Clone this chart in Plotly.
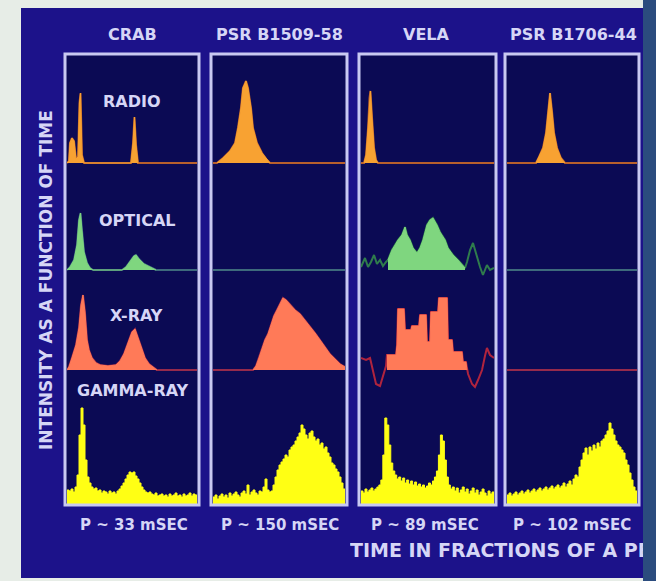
import plotly.graph_objects as go

# ---------------- text ----------------
PULSARS = ["CRAB", "PSR B1509-58", "VELA", "PSR B1706-44"]
PERIODS = ["P ~ 33 mSEC", "P ~ 150 mSEC", "P ~ 89 mSEC", "P ~ 102 mSEC"]
BANDS = ["RADIO", "OPTICAL", "X-RAY", "GAMMA-RAY"]
X_TITLE = "TIME IN FRACTIONS OF A PERIOD"
Y_TITLE = "INTENSITY AS A FUNCTION OF TIME"

# ---------------- pulse profiles (phase 0..1, intensity in arbitrary units) ----------------
# Crab
crab_radio_phase = [0.0, 0.015, 0.023, 0.038, 0.054, 0.069, 0.085, 0.096, 0.104, 0.115, 0.131,
                    0.492, 0.508, 0.519, 0.531, 0.546, 1.0]
crab_radio = [0, 2, 20, 25, 22, 4, 6, 60, 70, 8, 0, 0, 20, 46, 18, 0, 0]

crab_optical_phase = [0.0, 0.023, 0.054, 0.077, 0.092, 0.104, 0.115, 0.131, 0.154, 0.177, 0.2,
                      0.423, 0.454, 0.485, 0.515, 0.531, 0.554, 0.592, 0.638, 0.685, 1.0]
crab_optical = [0, 3, 10, 25, 50, 57, 40, 18, 7, 2, 0, 0, 3, 8, 14, 15, 11, 6, 3, 0, 0]

crab_xray_phase = [0.0, 0.015, 0.038, 0.069, 0.092, 0.108, 0.123, 0.138, 0.154, 0.169, 0.192,
                   0.223, 0.254, 0.315, 0.377, 0.408, 0.438, 0.469, 0.5, 0.523, 0.546, 0.569,
                   0.6, 0.631, 0.662, 0.692, 1.0]
crab_xray = [0, 3, 12, 25, 42, 65, 75, 58, 30, 20, 12, 7, 5, 4, 5, 9, 16, 26, 38, 41, 32, 22,
             12, 6, 3, 0, 0]

crab_gamma = [15, 14, 16, 13, 18, 30, 70, 97, 80, 45, 28, 22, 18, 16, 17, 14, 15, 12, 14, 13,
              11, 14, 12, 13, 11, 14, 16, 19, 22, 26, 30, 33, 32, 33, 29, 26, 22, 18, 15, 13,
              12, 13, 11, 10, 12, 9, 10, 11, 9, 10, 8, 11, 9, 10, 12, 9, 10, 8, 11, 9,
              10, 12, 9, 11, 10]

# PSR B1509-58
b1509_radio_phase = [0.0, 0.030, 0.076, 0.129, 0.167, 0.189, 0.212, 0.227, 0.250, 0.265, 0.288,
                     0.303, 0.333, 0.371, 0.409, 0.432, 1.0]
b1509_radio = [0, 0, 5, 12, 20, 35, 55, 75, 82, 75, 55, 35, 20, 10, 3, 0, 0]

b1509_optical_phase = [0.0, 1.0]
b1509_optical = [0, 0]

b1509_xray_phase = [0.0, 0.303, 0.326, 0.348, 0.371, 0.394, 0.417, 0.439, 0.462, 0.485, 0.508,
                    0.530, 0.553, 0.583, 0.621, 0.659, 0.697, 0.735, 0.773, 0.811, 0.848,
                    0.886, 0.924, 0.962, 1.0]
b1509_xray = [0, 0, 4, 12, 22, 30, 36, 46, 54, 60, 66, 72, 70, 66, 60, 56, 50, 43, 37, 30, 23,
              16, 11, 6, 3]

b1509_gamma = [8, 10, 6, 9, 11, 8, 10, 7, 12, 9, 11, 13, 10, 8, 12, 14, 11, 20, 10, 13,
               15, 12, 10, 14, 13, 18, 26, 15, 13, 14, 20, 28, 35, 40, 43, 46, 50, 48, 55, 58,
               60, 64, 68, 72, 80, 76, 70, 66, 72, 74, 68, 64, 66, 60, 62, 56, 58, 52, 48, 42,
               40, 36, 33, 28, 22, 16]

# Vela
vela_radio_phase = [0.0, 0.023, 0.038, 0.053, 0.064, 0.071, 0.083, 0.098, 0.113, 0.128, 1.0]
vela_radio = [0, 0, 8, 35, 65, 72, 45, 15, 3, 0, 0]

vela_optical_phase = [0.0, 0.008, 0.030, 0.053, 0.075, 0.098, 0.120, 0.143, 0.165, 0.188, 0.203,
                      0.233, 0.256, 0.278, 0.308, 0.331, 0.346, 0.368, 0.391, 0.421, 0.444,
                      0.466, 0.496, 0.519, 0.541, 0.571, 0.594, 0.632, 0.654, 0.692, 0.729,
                      0.759, 0.782, 0.797, 0.820, 0.842, 0.872, 0.895, 0.917, 0.947, 0.970, 1.0]
vela_optical = [3, 5, 12, 3, 8, 15, 6, 10, 4, 8, 10, 20, 25, 30, 35, 43, 35, 30, 22, 17, 22,
                30, 45, 50, 52, 45, 38, 30, 22, 15, 10, 5, 2, 8, 20, 27, 12, 3, -5, 5, 0, 2]

vela_xray_phase = [0.0, 0.038, 0.068, 0.090, 0.113, 0.143, 0.165, 0.188, 0.195, 0.263, 0.271,
                   0.278, 0.323, 0.331, 0.376, 0.383, 0.436, 0.444, 0.489, 0.496, 0.519,
                   0.526, 0.579, 0.586, 0.647, 0.654, 0.684, 0.692, 0.759, 0.767, 0.789,
                   0.797, 0.805, 0.835, 0.857, 0.880, 0.910, 0.932, 0.947, 0.970, 1.0]
vela_xray = [12, 10, 12, 0, -14, -16, -6, 4, 15, 15, 25, 61, 61, 40, 40, 44, 44, 55, 55, 28, 28,
             58, 58, 72, 72, 30, 30, 18, 18, 8, 8, 0, -4, -14, -17, -10, 0, 14, 22, 15, 12]

vela_gamma = [14, 12, 16, 13, 15, 17, 14, 16, 18, 20, 25, 50, 87, 80, 60, 42, 34, 30, 26, 28,
              24, 27, 22, 25, 21, 24, 20, 23, 19, 21, 18, 20, 17, 19, 22, 20, 24, 28, 34, 50,
              70, 64, 45, 28, 20, 16, 18, 14, 17, 12, 15, 18, 13, 16, 11, 14, 17, 12, 15, 10,
              13, 16, 12, 9, 14, 11, 13]

# PSR B1706-44
b1706_radio_phase = [0.0, 0.223, 0.246, 0.277, 0.300, 0.315, 0.331, 0.346, 0.362, 0.385, 0.415,
                     0.446, 1.0]
b1706_radio = [0, 0, 6, 15, 30, 50, 70, 52, 30, 15, 5, 0, 0]

b1706_optical_phase = [0.0, 1.0]
b1706_optical = [0, 0]

b1706_xray_phase = [0.0, 1.0]
b1706_xray = [0, 0]

b1706_gamma = [10, 12, 9, 11, 13, 10, 12, 14, 11, 13, 15, 12, 14, 16, 13, 15, 17, 14, 16, 18,
               15, 17, 19, 16, 18, 20, 17, 19, 22, 18, 21, 24, 20, 26, 30, 28, 38, 45, 52, 57,
               50, 58, 54, 60, 56, 62, 58, 64, 66, 70, 74, 82, 76, 70, 64, 60, 58, 55, 52, 45,
               40, 32, 25, 18, 14]

# on-pulse windows that get the bright fill (everything else is drawn as a trace line)
ON_PULSE = {(2, 1): (0.195, 0.785), (2, 2): (0.19, 0.80)}

PROFILES = {
    (0, 0): (crab_radio_phase, crab_radio),
    (0, 1): (crab_optical_phase, crab_optical),
    (0, 2): (crab_xray_phase, crab_xray),
    (1, 0): (b1509_radio_phase, b1509_radio),
    (1, 1): (b1509_optical_phase, b1509_optical),
    (1, 2): (b1509_xray_phase, b1509_xray),
    (2, 0): (vela_radio_phase, vela_radio),
    (2, 1): (vela_optical_phase, vela_optical),
    (2, 2): (vela_xray_phase, vela_xray),
    (3, 0): (b1706_radio_phase, b1706_radio),
    (3, 1): (b1706_optical_phase, b1706_optical),
    (3, 2): (b1706_xray_phase, b1706_xray),
}
GAMMA = [crab_gamma, b1509_gamma, vela_gamma, b1706_gamma]

# ---------------- layout geometry (pixels) ----------------
W, H = 656, 581
PANEL_PX = [(65, 199), (211, 347), (359, 496), (505, 639)]      # framed boxes
PLOT_PX = [(67, 197), (213, 345), (361, 494), (507, 637)]       # inside of boxes
PANEL_TOP, PANEL_BOTTOM = 54, 505
ROW_PX = [(56, 175), (175, 282), (282, 400), (400, 505)]        # top, bottom
ROW_RANGE = [(-12, 107), (-12, 95), (-30, 88), (0, 105)]

BG_LIGHT = "#e7ede7"
BG_NAVY = "#1c128a"
PANEL_FILL = "#0b0a54"
FRAME = "#c9c9f2"
STRIP = "#2b4c7e"
TEXT = "#d6d6f6"
FONT = "DejaVu Sans"

ROW_LINE = ["#b8602c", "#3e6a7c", "#962a4c", "#ffff14"]
ROW_FILL = ["#f8a232", "#7fd67f", "#ff7a58", "#ffff14"]
LINE_OVERRIDE = {(2, 1): "#2f7c4c", (2, 2): "#b0243e"}


def px_x(x):
    return x / W


def px_y(y):
    return 1 - y / H


def fill_part(phase, vals, lo, hi):
    """Keep points inside the window that belong to a pulse (non-zero or next to one)."""
    out = []
    n = len(vals)
    for i, (p, v) in enumerate(zip(phase, vals)):
        near = any(vals[j] != 0 for j in range(max(0, i - 1), min(n, i + 2)))
        out.append(v if (lo <= p <= hi and near) else None)
    return out


fig = go.Figure()
layout_axes = {}

for c in range(4):
    for r in range(4):
        k = r * 4 + c + 1
        xa, ya = ("x" if k == 1 else f"x{k}"), ("y" if k == 1 else f"y{k}")
        layout_axes["xaxis" if k == 1 else f"xaxis{k}"] = dict(
            domain=[px_x(PLOT_PX[c][0]), px_x(PLOT_PX[c][1])], range=[0, 1],
            visible=False, anchor=ya, fixedrange=True)
        layout_axes["yaxis" if k == 1 else f"yaxis{k}"] = dict(
            domain=[px_y(ROW_PX[r][1]), px_y(ROW_PX[r][0])], range=list(ROW_RANGE[r]),
            visible=False, anchor=xa, fixedrange=True)

        if r < 3:
            phase, vals = PROFILES[(c, r)]
            lo, hi = ON_PULSE.get((c, r), (0.0, 1.0))
            fig.add_trace(go.Scatter(
                x=phase, y=vals, xaxis=xa, yaxis=ya, mode="lines",
                line=dict(color=LINE_OVERRIDE.get((c, r), ROW_LINE[r]), width=2),
                hoverinfo="skip", showlegend=False))
            fig.add_trace(go.Scatter(
                x=phase, y=fill_part(phase, vals, lo, hi), xaxis=xa, yaxis=ya,
                mode="lines", fill="tozeroy", fillcolor=ROW_FILL[r],
                line=dict(color=ROW_FILL[r], width=1), connectgaps=False,
                hoverinfo="skip", showlegend=False))
        else:
            counts = GAMMA[c]
            n = len(counts)
            edges = [i / n for i in range(n)] + [1.0]
            fig.add_trace(go.Scatter(
                x=edges, y=counts + [counts[-1]], xaxis=xa, yaxis=ya, mode="lines",
                line=dict(color=ROW_LINE[r], width=1, shape="hv"),
                fill="tozeroy", fillcolor=ROW_FILL[r],
                hoverinfo="skip", showlegend=False))

# axis-title text, clipped at the right edge of the navy board
layout_axes["xaxis17"] = dict(domain=[px_x(350), px_x(643)], range=[0, 1], visible=False,
                              anchor="y17", fixedrange=True)
layout_axes["yaxis17"] = dict(domain=[px_y(568), px_y(537)], range=[0, 1], visible=False,
                              anchor="x17", fixedrange=True)
fig.add_trace(go.Scatter(
    x=[0], y=[0.5], xaxis="x17", yaxis="y17", mode="text", text=[f"<b>{X_TITLE}</b>"],
    textposition="middle right", cliponaxis=True,
    textfont=dict(family=FONT, size=19, color=TEXT),
    hoverinfo="skip", showlegend=False))

shapes = [
    dict(type="rect", xref="paper", yref="paper", x0=px_x(21), x1=px_x(643),
         y0=px_y(578), y1=px_y(8), fillcolor=BG_NAVY, line_width=0, layer="below"),
    dict(type="rect", xref="paper", yref="paper", x0=px_x(643), x1=1,
         y0=0, y1=1, fillcolor=STRIP, line_width=0, layer="below"),
]
for (x0, x1) in PANEL_PX:
    shapes.append(dict(type="rect", xref="paper", yref="paper", x0=px_x(x0), x1=px_x(x1),
                       y0=px_y(PANEL_BOTTOM), y1=px_y(PANEL_TOP), fillcolor=PANEL_FILL,
                       line_width=0, layer="below"))
    shapes.append(dict(type="rect", xref="paper", yref="paper", x0=px_x(x0), x1=px_x(x1),
                       y0=px_y(PANEL_BOTTOM), y1=px_y(PANEL_TOP),
                       fillcolor="rgba(0,0,0,0)", line=dict(color=FRAME, width=3),
                       layer="above"))

annotations = []


def label(text, x, y, size, angle=0):
    annotations.append(dict(text=f"<b>{text}</b>", x=px_x(x), y=px_y(y), xref="paper",
                            yref="paper", showarrow=False, xanchor="center",
                            yanchor="middle", textangle=angle,
                            font=dict(family=FONT, size=size, color=TEXT)))


for name, xc in zip(PULSARS, [132, 279, 426, 573]):
    label(name, xc, 35, 16)
for per, xc in zip(PERIODS, [134, 280, 425, 572]):
    label(per, xc, 525, 15)
for band, (xc, yc) in zip(BANDS, [(132, 101), (137, 220), (136, 315), (133, 390)]):
    label(band, xc, yc, 16)
label(Y_TITLE, 46, 280, 17, angle=-90)

fig.update_layout(
    width=W, height=H, margin=dict(l=0, r=0, t=0, b=0),
    paper_bgcolor=BG_LIGHT, plot_bgcolor="rgba(0,0,0,0)",
    shapes=shapes, annotations=annotations, showlegend=False,
    **layout_axes)

fig.write_html("out.html", config={"displayModeBar": False})
